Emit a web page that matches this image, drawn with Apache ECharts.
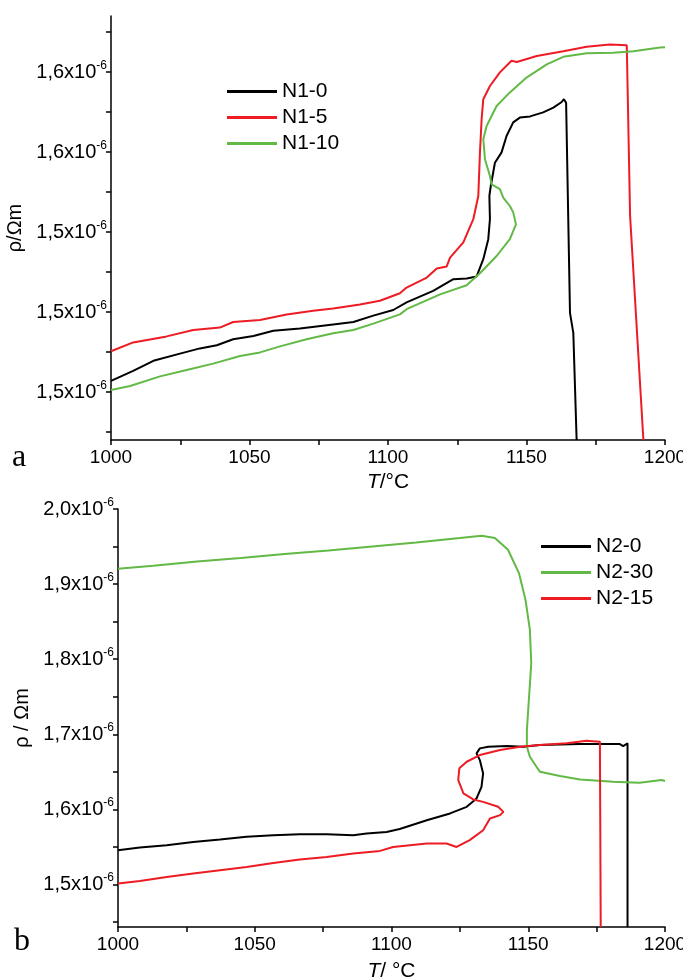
<!DOCTYPE html>
<html>
<head>
    <meta charset="utf-8">
    <title>rho(T)</title>
    <script src="https://cdn.jsdelivr.net/npm/echarts@6/dist/echarts.min.js"></script>
    <style>
        html, body { margin: 0; padding: 0; background: #fff; }
        #main { width: 683px; height: 980px; }
    </style>
</head>
<body>
<div id="main"></div>
<script type="text/javascript">
    // data, rho in units of 1e-6 Ohm*m, [T, rho]
    //------------------------------------------
    var xTicks = [1000, 1025, 1050, 1075, 1100, 1125, 1150, 1175, 1200];
    var xLabels = [1000, 1050, 1100, 1150, 1200];

    var yTicksA = [1.49, 1.50, 1.51, 1.52, 1.53, 1.54, 1.55, 1.56, 1.57, 1.58, 1.59];
    var yLabelsA = [1.50, 1.52, 1.54, 1.56, 1.58];
    var yTicksB = [1.45, 1.50, 1.55, 1.60, 1.65, 1.70, 1.75, 1.80, 1.85, 1.90, 1.95, 2.00];
    var yLabelsB = [1.5, 1.6, 1.7, 1.8, 1.9, 2.0];

    var n1_0 = [[1000, 1.5028], [1008, 1.5053], [1015.3, 1.5078], [1024.9, 1.5096], [1032.1, 1.5109],
        [1038.2, 1.5117], [1044.1, 1.5132], [1051.4, 1.514], [1058.6, 1.5153], [1068.2, 1.5159],
        [1080.2, 1.5169], [1087.5, 1.5175], [1094.7, 1.5191], [1101.9, 1.5205], [1106.7, 1.5224],
        [1116.3, 1.5253], [1123.6, 1.5282], [1128.4, 1.5284], [1132, 1.5289], [1134.4, 1.5332],
        [1136.2, 1.5382], [1136.8, 1.5432], [1136.6, 1.549], [1137.1, 1.5515], [1138.6, 1.5573],
        [1141, 1.5599], [1142.8, 1.564], [1145.2, 1.5674], [1147.6, 1.5686], [1151.3, 1.5689],
        [1156, 1.5699], [1159.7, 1.5711], [1162.7, 1.5725], [1163.5, 1.5732], [1164.3, 1.5723],
        [1165.7, 1.5198], [1166.9, 1.5148], [1168.1, 1.488]];
    var n1_5 = [[1000, 1.5102], [1008, 1.5124], [1020.1, 1.5139], [1029.7, 1.5155], [1039.3, 1.5161],
        [1044.1, 1.5175], [1053.8, 1.518], [1063.4, 1.5194], [1073, 1.5203], [1080.2, 1.5209],
        [1089.9, 1.5219], [1097.1, 1.5228], [1104.3, 1.5247], [1106.7, 1.5261], [1114, 1.5286],
        [1117.6, 1.5309], [1121.2, 1.5314], [1122.4, 1.5336], [1127.2, 1.5374], [1130.8, 1.5432],
        [1132.6, 1.549], [1133.2, 1.5599], [1133.8, 1.5682], [1134.4, 1.5732], [1136.8, 1.5765],
        [1140.4, 1.5799], [1144.6, 1.5828], [1146.5, 1.5825], [1153.7, 1.584], [1163.3, 1.5852],
        [1171.7, 1.5863], [1180.1, 1.5869], [1186.2, 1.5867], [1186.8, 1.5865], [1187.4, 1.544],
        [1192.2, 1.488]];
    var n1_10 = [[1000, 1.5005], [1006.9, 1.5015], [1017.7, 1.5039], [1027.3, 1.5055], [1036.9, 1.5071],
        [1046.6, 1.509], [1053.8, 1.5099], [1061, 1.5114], [1070.6, 1.5132], [1080.2, 1.5147],
        [1087.5, 1.5155], [1094.7, 1.5171], [1104.3, 1.5194], [1106.7, 1.5207], [1118.8, 1.5244],
        [1128.4, 1.5267], [1133.2, 1.5297], [1139.2, 1.534], [1144, 1.5382], [1146.2, 1.5419],
        [1145.2, 1.5449], [1144, 1.5465], [1141.6, 1.5486], [1140.4, 1.5507], [1137.4, 1.5519],
        [1136.8, 1.554], [1135, 1.5582], [1134.4, 1.5632], [1135.6, 1.5665], [1139.2, 1.5715],
        [1144, 1.5749], [1150, 1.5786], [1157.3, 1.5819], [1163.3, 1.5838], [1171.7, 1.5847],
        [1181.3, 1.5848], [1188.6, 1.5852], [1198.2, 1.5861], [1200, 1.5862]];

    var n2_0 = [[1000, 1.5457], [1008, 1.5493], [1017.8, 1.5524], [1027.5, 1.5568], [1037.3, 1.56],
        [1047, 1.5635], [1056.8, 1.5657], [1066.5, 1.567], [1076.3, 1.567], [1086, 1.5657],
        [1090.9, 1.568], [1098.2, 1.5701], [1103, 1.574], [1112.9, 1.5857], [1121.4, 1.5947],
        [1127.5, 1.6035], [1131.1, 1.6147], [1132.9, 1.6301], [1133.5, 1.648], [1132.3, 1.6657],
        [1131.1, 1.6747], [1132.3, 1.6813], [1135.4, 1.6835], [1142.1, 1.6844], [1148.2, 1.6835],
        [1154.2, 1.6857], [1168.9, 1.6871], [1183.5, 1.6871], [1184.7, 1.6844], [1186.3, 1.688],
        [1186.3, 1.4435]];
    var n2_30 = [[1000, 1.9204], [1012.9, 1.9244], [1028.9, 1.9301], [1044.9, 1.9347], [1060.9, 1.94],
        [1077, 1.9448], [1093, 1.9501], [1109, 1.9555], [1125, 1.9613], [1133, 1.9644],
        [1137.8, 1.9613], [1142.6, 1.9457], [1146.6, 1.9147], [1149, 1.879], [1150.6, 1.839],
        [1151.1, 1.7947], [1150.3, 1.7501], [1149.5, 1.7057], [1149.5, 1.6835], [1150.6, 1.6701],
        [1153, 1.6568], [1154.3, 1.6501], [1161.6, 1.6444], [1168.9, 1.64], [1181.1, 1.6368],
        [1190.7, 1.6355], [1198.8, 1.6391], [1200, 1.638]];
    var n2_15 = [[1000, 1.5013], [1008, 1.5048], [1017.8, 1.5101], [1027.5, 1.5147], [1037.3, 1.5191],
        [1047, 1.5235], [1056.8, 1.5288], [1066.5, 1.5333], [1076.3, 1.5368], [1086, 1.5413],
        [1095.8, 1.5448], [1100.6, 1.5501], [1112.9, 1.5547], [1120.1, 1.5547], [1123.8, 1.5501],
        [1128.6, 1.5591], [1133.5, 1.5724], [1136, 1.588], [1139.7, 1.5924], [1140.9, 1.5968],
        [1139, 1.6035], [1133.5, 1.6101], [1129.9, 1.6133], [1126.3, 1.6213], [1124.4, 1.6391],
        [1124.8, 1.6547], [1127.5, 1.6635], [1132.3, 1.6724], [1139.7, 1.6791], [1147, 1.6835],
        [1154.2, 1.6857], [1164, 1.688], [1171.3, 1.6915], [1176.2, 1.6901], [1176.5, 1.4435]];

    var BLACK = '#000000', RED = '#ed1c24', GREEN = '#62b946';
    var FONT = '"Liberation Sans", Arial, sans-serif';

    // helpers
    //------------------------------------------
    function yLabel(v) {
        return '{m|' + v.toFixed(1).replace('.', ',') + 'x10}{s|-6}';
    }
    var yRich = {
        m: { fontSize: 20, fontFamily: FONT, color: '#000' },
        s: { fontSize: 12, fontFamily: FONT, color: '#000', padding: [0, 0, 13, 0] }
    };
    var axisLine = { show: true, lineStyle: { color: '#000', width: 1.5 } };

    function xAxisOf(idx, gap) {
        return {
            gridIndex: idx, type: 'value', min: 1000, max: 1200,
            name: idx === 0 ? '{i|T}/°C' : '{i|T}/ °C',
            nameLocation: 'middle', nameGap: gap,
            nameTextStyle: { fontSize: 21, fontFamily: FONT, color: '#000',
                rich: { i: { fontSize: 21, fontFamily: FONT, fontStyle: 'italic', color: '#000' } } },
            axisLine: axisLine,
            axisTick: { show: true, inside: false, length: 5, customValues: xTicks,
                lineStyle: { color: '#000', width: 1.5 } },
            axisLabel: { customValues: xLabels, fontSize: 19, fontFamily: FONT, color: '#000', margin: 8,
                formatter: function (v) { return String(v); } },
            splitLine: { show: false }
        };
    }
    function yAxisOf(idx, min, max, ticks, labels, name, gap) {
        return {
            gridIndex: idx, type: 'value', min: min, max: max,
            name: name, nameLocation: 'middle', nameGap: gap, nameRotate: 90,
            nameTextStyle: { fontSize: 20, fontFamily: FONT, color: '#000' },
            axisLine: axisLine,
            axisTick: { show: true, inside: false, length: 5, customValues: ticks,
                lineStyle: { color: '#000', width: 1.5 } },
            axisLabel: { customValues: labels, formatter: yLabel, rich: yRich, margin: 4 },
            splitLine: { show: false }
        };
    }
    function line(name, data, color, idx) {
        return {
            name: name, type: 'line', data: data, xAxisIndex: idx, yAxisIndex: idx,
            symbol: 'none', smooth: false, clip: true,
            lineStyle: { color: color, width: 2 }, itemStyle: { color: color }
        };
    }
    function legendOf(left, top, names) {
        return {
            orient: 'vertical', left: left, top: top,
            icon: 'rect', itemWidth: 50, itemHeight: 3, itemGap: 5,
            textStyle: { fontSize: 21, fontFamily: FONT, color: '#000' },
            data: names
        };
    }

    var chart = echarts.init(document.getElementById('main'));
    var option = {
        backgroundColor: '#fff',
        animation: false,
        grid: [
            { left: 111, top: 16, width: 554, height: 424, outerBoundsMode: 'none', containLabel: false },
            { left: 118, top: 509, width: 547, height: 418, outerBoundsMode: 'none', containLabel: false }
        ],
        legend: [
            legendOf(222, 76, ['N1-0', 'N1-5', 'N1-10']),
            legendOf(536, 531, ['N2-0', 'N2-30', 'N2-15'])
        ],
        xAxis: [xAxisOf(0, 32), xAxisOf(1, 34)],
        yAxis: [
            yAxisOf(0, 1.488, 1.594, yTicksA, yLabelsA, 'ρ/Ωm', 76),
            yAxisOf(1, 1.4435, 2.0, yTicksB, yLabelsB, 'ρ / Ωm', 86)
        ],
        graphic: [
            { type: 'text', left: 12, top: 442, style: { text: 'a', font: '32px "Liberation Serif", serif', fill: '#000' } },
            { type: 'text', left: 14, top: 926, style: { text: 'b', font: '32px "Liberation Serif", serif', fill: '#000' } }
        ],
        series: [
            line('N1-0', n1_0, BLACK, 0),
            line('N1-5', n1_5, RED, 0),
            line('N1-10', n1_10, GREEN, 0),
            line('N2-0', n2_0, BLACK, 1),
            line('N2-30', n2_30, GREEN, 1),
            line('N2-15', n2_15, RED, 1)
        ]
    };
    chart.setOption(option);
</script>
</body>
</html>
